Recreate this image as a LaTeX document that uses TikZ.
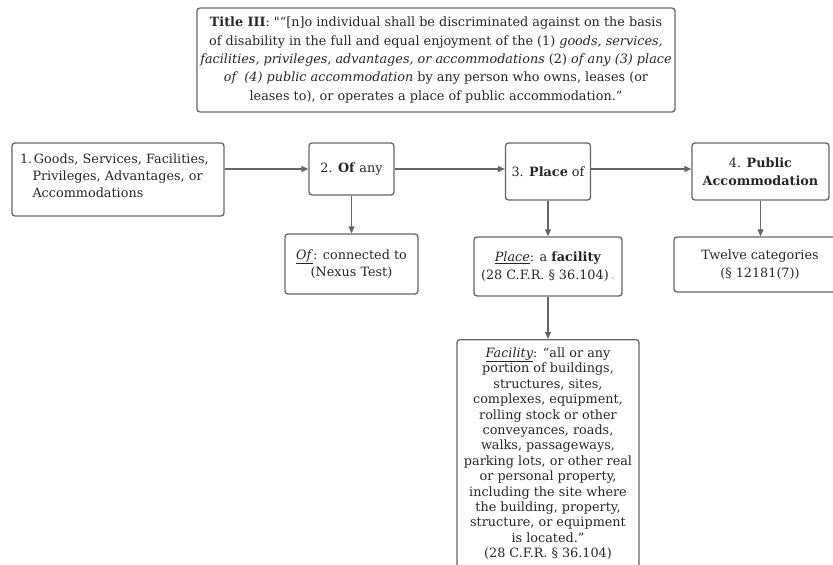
\documentclass[tikz,border=0pt]{standalone}
\usepackage{fontspec}
\setmainfont{DejaVu Serif}
\newfontfamily\rawserif{DejaVu Serif}
\usepackage{xcolor}
\usetikzlibrary{positioning, arrows.meta, calc}

\definecolor{boxgray}{HTML}{666666}
\definecolor{inkgray}{HTML}{262626}

\tikzset{
  box/.style={draw=boxgray, line width=1.3pt, rounded corners=3pt, align=center,
    inner sep=2pt, text=inkgray, font=\fontsize{12.8}{17.5}\selectfont},
  link/.style={draw=boxgray, line width=1.1pt, -{Triangle[length=7pt, width=6pt]}}
}

\begin{document}
\begin{tikzpicture}[x=1pt, y=-1pt]
        \useasboundingbox (0,0) rectangle (833,565);
        \clip (0,0) rectangle (833,565);

        % Statute quotation
        \node[box, font=\fontsize{12.8}{18.3}\selectfont, minimum width=478pt, minimum height=104pt] (title) at (436,60)
          {\textbf{Title III}: {\rawserif"}“[n]o individual shall be discriminated against on the basis\\
           of disability in the full and equal enjoyment of the (1) \textit{goods, services,}\\
           \textit{facilities, privileges, advantages, or accommodations} (2) \textit{of any (3) place}\\
           \textit{of\ \ (4) public accommodation} by any person who owns, leases (or\\
           leases to), or operates a place of public accommodation.”};

        % Top row
        \node[box, align=left, font=\fontsize{12.8}{17}\selectfont, minimum width=212pt, minimum height=73pt,
          text width=196pt, inner xsep=8pt] (goods) at (118,179.5)
          {\makebox[14pt][l]{1.}Goods, Services, Facilities,\\
           \hspace*{12.5pt}Privileges, Advantages, or\\
           \hspace*{12.5pt}Accommodations\\[-9pt]\mbox{}};
        \node[box, minimum width=85pt, minimum height=52pt] (ofany) at (351.5,169) {2. \textbf{Of} any};
        \node[box, minimum width=85pt, minimum height=57pt] (placeof) at (548,171.5) {3. \textbf{Place} of};
        \node[box, minimum width=137pt, minimum height=57pt] (pubacc) at (760.5,171.5) {4. \textbf{Public}\\ \textbf{Accommodation}};

        % Definitions
        \node[box, minimum width=133pt, minimum height=60pt] (ofdef) at (351.5,264)
          {\underline{\textit{Of}}: connected to\\ (Nexus Test)};
        \node[box, minimum width=148pt, minimum height=59pt] (placedef) at (548,266.5)
          {\underline{\textit{Place}}: a \textbf{facility}\\ (28 C.F.R. § 36.104)\,{\color{boxgray!50}.}};
        \node[box, minimum width=172pt, minimum height=55pt] (twelve) at (760,264.5)
          {Twelve categories\\ (§ 12181(7))};
        \node[box, font=\fontsize{12.8}{15.4}\selectfont, minimum width=182pt, minimum height=228pt, anchor=north] (facility) at (548,339)
          {\underline{\textit{Facility}}: “all or any\\ portion of buildings,\\ structures, sites,\\
           complexes, equipment,\\ rolling stock or other\\ conveyances, roads,\\
           walks, passageways,\\ parking lots, or other real\\ or personal property,\\
           including the site where\\ the building, property,\\ structure, or equipment\\
           is located.”\\ (28 C.F.R. § 36.104)};

        % Connectors
        \draw[link] (goods.east |- ofany.west) -- (ofany.west);
        \draw[link] (ofany.east) -- (ofany.east -| placeof.west);
        \draw[link] (placeof.east |- ofany.east) -- (pubacc.west |- ofany.east);
        \draw[link] (ofany.south) -- (ofdef.north);
        \draw[link] (placeof.south) -- (placedef.north);
        \draw[link] (pubacc.south) -- (pubacc.south |- twelve.north);
        \draw[link] (placedef.south) -- (facility.north);
      \end{tikzpicture}
\end{document}
